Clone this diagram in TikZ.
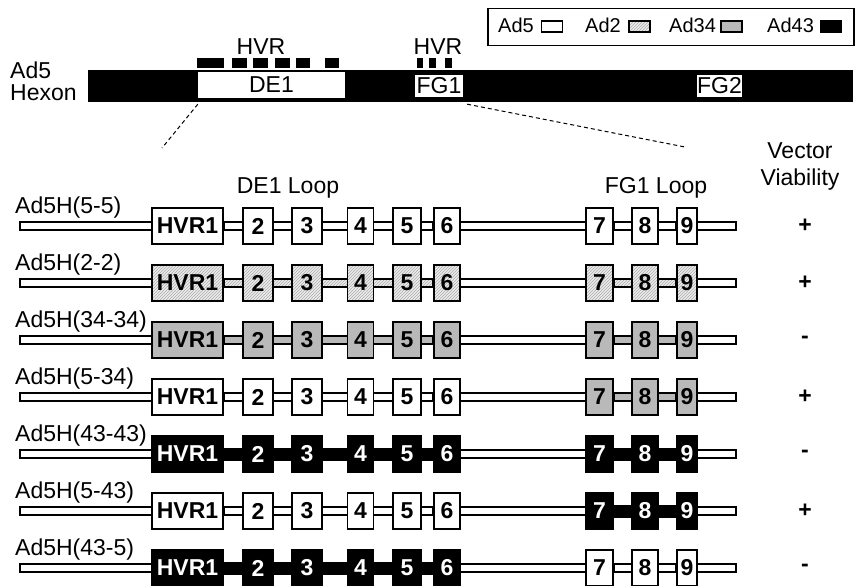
\documentclass[tikz,border=0pt]{standalone}
\usepackage{fontspec}
\setmainfont{Liberation Sans}
\usetikzlibrary{patterns,backgrounds}

\newcommand\mainsize{\fontsize{23}{27}\selectfont}
\newcommand\legsize{\fontsize{20}{24}\selectfont}
\newcommand\boxsize{\fontsize{23}{26}\selectfont\bfseries}

\tikzset{
  ad5/.style={fill=white},
  ad2/.style={preaction={fill=gray!15}, pattern=north east lines, pattern color=gray!65},
  ad34/.style={fill=gray!55},
  ad43/.style={fill=black, text=white},
  conn ad5/.style={},
  conn ad2/.style={},
  conn ad34/.style={},
  conn ad43/.style={line width=5pt},
  loopbox/.style={draw, line width=1.6pt, minimum height=36pt, inner sep=0pt, font=\boxsize},
  bone/.style={draw, line width=1.6pt},
  lbl/.style={inner sep=0pt, font=\mainsize},
  legkey/.style={draw, line width=1.2pt, minimum width=21pt, minimum height=11pt, inner sep=0pt},
  window/.style={fill=white, inner sep=0pt, font=\mainsize},
  zoomline/.style={line width=1pt, dash pattern=on 4pt off 3pt}
}

\begin{document}
\begin{tikzpicture}[x=1pt, y=-1pt]
\useasboundingbox (0,0) rectangle (855,586);

% legend
\node[draw, line width=1.5pt, minimum width=366pt, minimum height=37pt, anchor=north west] (legend) at (487,8) {};
\foreach \lab/\sty/\x/\kx in {Ad5/ad5/498/552, Ad2/ad2/585/639.5, Ad34/ad34/669/731.5, Ad43/ad43/767/831}{
  \node[lbl, font=\legsize, anchor=base west] (leg\lab) at (\x,33) {\lab};
  \node[legkey, \sty] (key\lab) at (\kx,26.5) {};
}

% hexon bar
\node[fill=black, minimum width=765pt, minimum height=32pt, inner sep=0pt, anchor=north west] (hexon) at (88,70) {};
\node[window, minimum width=147pt, minimum height=26pt] (de1) at (271.5,85) {DE1};
\node[window, minimum width=48pt, minimum height=22pt] (fg1) at (439,86) {FG1};
\node[window, minimum width=45pt, minimum height=22pt] (fg2) at (719.5,86) {FG2};
\node[lbl, anchor=base west] (ad5lab) at (10,79) {Ad5};
\node[lbl, anchor=base west] (hexlab) at (10,100) {Hexon};

% HVR marks
\foreach \a/\b in {197/224, 232/247, 253/268, 275/290, 296/310, 325/339, 417/423, 429/436, 445/452}
  \fill (\a,58) rectangle (\b,68);
\node[lbl, anchor=base] (hvrde) at (261,55) {HVR};
\node[lbl, anchor=base] (hvrfg) at (438,55) {HVR};

% zoom lines
\coordinate (deend) at (162,148);
\coordinate (fgend) at (685,147);
\draw[zoomline] ([yshift=-6pt]de1.south west) -- (deend);
\draw[zoomline] ([shift={(4pt,-7pt)}]fg1.south east) -- (fgend);

\node[lbl] (deloop) at (288,188) {DE1 Loop};
\node[lbl] (fgloop) at (656,188) {FG1 Loop};
\node[lbl, align=center] (viab) at (800,166) {Vector\\Viability};

% vectors
\foreach \name/\de/\fg/\via [count=\i] in {5-5/ad5/ad5/+, 2-2/ad2/ad2/+, 34-34/ad34/ad34/-, 5-34/ad5/ad34/+, 43-43/ad43/ad43/-, 5-43/ad5/ad43/+, 43-5/ad43/ad5/-}{
  \pgfmathsetmacro\yc{226+57*(\i-1)}
  \node[lbl, anchor=base west] (name\i) at (15,\yc-13) {Ad5H(\name)};
  \node[loopbox, \de, minimum width=71pt] (b\i-1) at (187.5,\yc) {HVR1};
  \foreach \n/\x/\w in {2/258/30, 3/307/30, 4/360.5/26, 5/407/28, 6/447/26}
    \node[loopbox, \de, minimum width=\w pt] (b\i-\n) at (\x,\yc) {\n};
  \foreach \n/\x/\w in {7/599.5/27, 8/645/26, 9/687/20}
    \node[loopbox, \fg, minimum width=\w pt] (b\i-\n) at (\x,\yc) {\n};
  \coordinate (s\i) at (20,\yc);
  \coordinate (e\i) at (736,\yc);
  \begin{scope}[on background layer]
    \draw[bone, fill=white] ([yshift=4pt]s\i) rectangle ([yshift=-4pt]e\i);
    \draw[bone, \de, conn \de] ([yshift=4pt]b\i-1.east) rectangle ([yshift=-4pt]b\i-6.west);
    \draw[bone, \fg, conn \fg] ([yshift=4pt]b\i-7.east) rectangle ([yshift=-4pt]b\i-9.west);
  \end{scope}
  \node[lbl, font=\boxsize] (via\i) at (805,\yc) {\via};
}
\end{tikzpicture}
\end{document}
